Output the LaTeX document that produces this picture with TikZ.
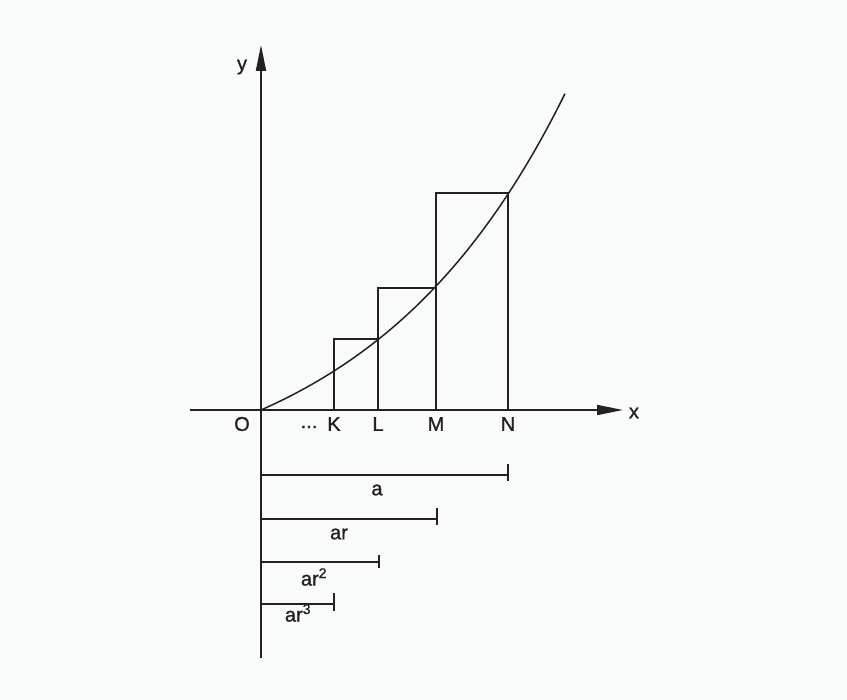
\documentclass[tikz,border=0pt]{standalone}
\usepackage{fontspec}
\setmainfont{Liberation Sans}
\newfontfamily\lblfont{Liberation Sans}[FakeBold=1.1]
\usetikzlibrary{arrows.meta}
\definecolor{ink}{HTML}{222222}
\definecolor{paper}{HTML}{F9FBFB}
\begin{document}
\begin{tikzpicture}[x=1pt,y=-1pt,
  axis/.style={draw=ink,line width=1.9pt,-{Triangle[length=26pt,width=10pt]}},
  edge/.style={draw=ink,line width=1.3pt},
  curve/.style={draw=ink,line width=1.5pt},
  lbl/.style={font=\lblfont\fontsize{20}{23}\selectfont,text=ink,inner sep=0pt}]
\fill[paper] (0,0) rectangle (847,700);
\useasboundingbox (0,0) rectangle (847,700);
% axes
\coordinate (O) at (261,410);
\coordinate (Ytop) at (261,45);
\coordinate (Ybot) at (261,658);
\coordinate (Xl) at (190,410);
\coordinate (Xr) at (623,410);
\draw[axis] (Ybot) -- (Ytop);
\draw[axis] (Xl) -- (Xr);
% points on x axis
\coordinate (K) at (334,410);
\coordinate (L) at (378,410);
\coordinate (M) at (436,410);
\coordinate (N) at (508,410);
% rectangles
\draw[edge] (K) -- (334,339) -- (378,339) -- (L);
\draw[edge] (L) -- (378,288) -- (436,288) -- (M);
\draw[edge] (M) -- (436,193) -- (508,193) -- (N);
% curve
\draw[curve] plot[domain=0:304,samples=80] ({261+\x},{410-88.4*(exp(0.005*\x)-1)});
% segments below
\coordinate (A0) at (261,475); \coordinate (A1) at (508,475);
\coordinate (B0) at (261,519); \coordinate (B1) at (437,519);
\coordinate (C0) at (261,562); \coordinate (C1) at (379,562);
\coordinate (D0) at (261,604); \coordinate (D1) at (334,604);
\draw[edge] (A0) -- (A1); \draw[edge] ([yshift=-6pt]A1) -- ([yshift=11pt]A1);
\draw[edge] (B0) -- (B1); \draw[edge] ([yshift=-6pt]B1) -- ([yshift=11pt]B1);
\draw[edge] (C0) -- (C1); \draw[edge] ([yshift=-6pt]C1) -- ([yshift=7pt]C1);
\draw[edge] (D0) -- (D1); \draw[edge] ([yshift=-7pt]D1) -- ([yshift=11pt]D1);
% labels
\node[lbl] (ly) at (242,67) {y};
\node[lbl] (lx) at (634,413) {x};
\node[lbl] (lO) at (242,424) {O};
\node[lbl] (ldots) at (309,427) {...};
\node[lbl] (lK) at (334,424) {K};
\node[lbl] (lL) at (378,424) {L};
\node[lbl] (lM) at (436,424) {M};
\node[lbl] (lN) at (508,424) {N};
\node[lbl] (la) at (377,490) {a};
\node[lbl] (lar) at (339,534) {ar};
\node[lbl] (lar2) at (314,577) {ar\textsuperscript{2}};
\node[lbl] (lar3) at (298,613) {ar\textsuperscript{3}};
\end{tikzpicture}
\end{document}
